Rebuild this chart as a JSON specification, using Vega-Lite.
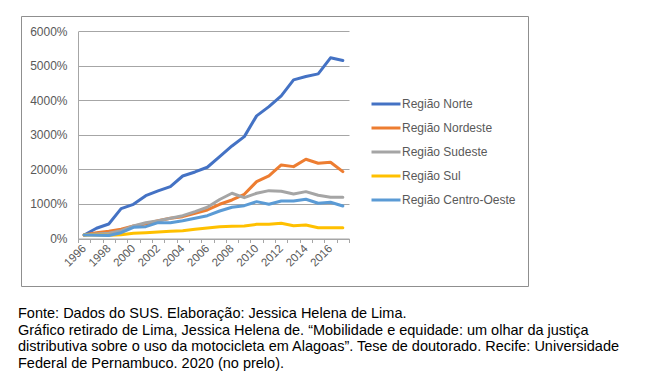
{
  "$schema": "https://vega.github.io/schema/vega-lite/v6.json",
  "width": 507,
  "height": 270,
  "padding": {"left": 21, "top": 16, "right": 143, "bottom": 102},
  "autosize": {"type": "none"},
  "background": "white",
  "view": {"stroke": "#8f8f8f", "strokeWidth": 1},
  "title": {
    "text": [
      "Fonte: Dados do SUS. Elaboração: Jessica Helena de Lima.",
      "Gráfico retirado de Lima, Jessica Helena de. “Mobilidade e equidade: um olhar da justiça",
      "distributiva sobre o uso da motocicleta em Alagoas”. Tese de doutorado. Recife: Universidade",
      "Federal de Pernambuco. 2020 (no prelo)."
    ],
    "orient": "bottom",
    "anchor": "start",
    "frame": "group",
    "offset": 21,
    "dx": -3,
    "font": "Liberation Sans",
    "fontSize": 14.5,
    "fontWeight": "normal",
    "color": "#000000",
    "lineHeight": 16.5
  },
  "config": {
    "view": {"stroke": "#8f8f8f", "strokeWidth": 1},
    "font": "Liberation Sans",
    "legend": {"rowPadding": 2}
  },
  "data": {
    "values": [
      {"ano": 1996, "Região Norte": 100, "Região Nordeste": 100, "Região Sudeste": 100, "Região Sul": 100, "Região Centro-Oeste": 100},
      {"ano": 1997, "Região Norte": 296, "Região Nordeste": 168, "Região Sudeste": 130, "Região Sul": 100, "Região Centro-Oeste": 95},
      {"ano": 1998, "Região Norte": 420, "Região Nordeste": 209, "Região Sudeste": 150, "Região Sul": 95, "Região Centro-Oeste": 85},
      {"ano": 1999, "Região Norte": 864, "Região Nordeste": 267, "Região Sudeste": 226, "Região Sul": 110, "Região Centro-Oeste": 168},
      {"ano": 2000, "Região Norte": 990, "Região Nordeste": 362, "Região Sudeste": 362, "Região Sul": 150, "Região Centro-Oeste": 325},
      {"ano": 2001, "Região Norte": 1240, "Região Nordeste": 420, "Região Sudeste": 458, "Região Sul": 168, "Região Centro-Oeste": 342},
      {"ano": 2002, "Região Norte": 1377, "Região Nordeste": 516, "Região Sudeste": 516, "Região Sul": 188, "Região Centro-Oeste": 458},
      {"ano": 2003, "Região Norte": 1502, "Região Nordeste": 585, "Região Sudeste": 585, "Região Sul": 209, "Região Centro-Oeste": 458},
      {"ano": 2004, "Região Norte": 1810, "Região Nordeste": 632, "Região Sudeste": 661, "Região Sul": 226, "Região Centro-Oeste": 516},
      {"ano": 2005, "Região Norte": 1927, "Região Nordeste": 730, "Região Sudeste": 777, "Região Sul": 267, "Região Centro-Oeste": 585},
      {"ano": 2006, "Região Norte": 2063, "Região Nordeste": 826, "Região Sudeste": 904, "Região Sul": 304, "Região Centro-Oeste": 660},
      {"ano": 2007, "Região Norte": 2370, "Região Nordeste": 991, "Região Sudeste": 1130, "Região Sul": 342, "Região Centro-Oeste": 797},
      {"ano": 2008, "Região Norte": 2680, "Região Nordeste": 1116, "Região Sudeste": 1310, "Região Sul": 352, "Região Centro-Oeste": 904},
      {"ano": 2009, "Região Norte": 2950, "Região Nordeste": 1280, "Região Sudeste": 1183, "Região Sul": 362, "Região Centro-Oeste": 951},
      {"ano": 2010, "Região Norte": 3551, "Região Nordeste": 1647, "Região Sudeste": 1310, "Região Sul": 411, "Região Centro-Oeste": 1067},
      {"ano": 2011, "Região Norte": 3820, "Região Nordeste": 1812, "Região Sudeste": 1386, "Região Sul": 411, "Região Centro-Oeste": 991},
      {"ano": 2012, "Região Norte": 4130, "Região Nordeste": 2130, "Região Sudeste": 1367, "Região Sul": 440, "Região Centro-Oeste": 1087},
      {"ano": 2013, "Região Norte": 4594, "Região Nordeste": 2081, "Região Sudeste": 1290, "Região Sul": 371, "Região Centro-Oeste": 1087},
      {"ano": 2014, "Região Norte": 4690, "Região Nordeste": 2295, "Região Sudeste": 1357, "Região Sul": 391, "Região Centro-Oeste": 1136},
      {"ano": 2015, "Região Norte": 4768, "Região Nordeste": 2180, "Região Sudeste": 1252, "Região Sul": 313, "Região Centro-Oeste": 1020},
      {"ano": 2016, "Região Norte": 5232, "Região Nordeste": 2209, "Região Sudeste": 1194, "Região Sul": 313, "Região Centro-Oeste": 1049},
      {"ano": 2017, "Região Norte": 5154, "Região Nordeste": 1937, "Região Sudeste": 1194, "Região Sul": 313, "Região Centro-Oeste": 942}
    ]
  },
  "transform": [
    {"fold": ["Região Norte", "Região Nordeste", "Região Sudeste", "Região Sul", "Região Centro-Oeste"], "as": ["regiao", "valor"]}
  ],
  "mark": {"type": "line", "strokeWidth": 3, "strokeJoin": "round", "strokeCap": "round"},
  "encoding": {
    "x": {
      "field": "ano",
      "type": "ordinal",
      "scale": {"type": "band", "range": [57, 328], "paddingInner": 0, "paddingOuter": 0},
      "axis": {
        "title": null,
        "labelExpr": "datum.value % 2 == 0 ? datum.label : ''",
        "labelAngle": -45,
        "labelAlign": "right",
        "labelBaseline": "middle",
        "labelOverlap": false,
        "tickBand": "extent",
        "ticks": true,
        "tickSize": 4,
        "tickColor": "#a6a6a6",
        "domainColor": "#a6a6a6",
        "grid": false,
        "labelFont": "Liberation Sans",
        "labelFontSize": 11.5,
        "labelColor": "#595959",
        "labelPadding": 4,
        "offset": -47.5
      }
    },
    "y": {
      "field": "valor",
      "type": "quantitative",
      "scale": {"domain": [0, 6000], "range": [222.5, 15.3], "nice": false},
      "axis": {
        "title": null,
        "values": [0, 1000, 2000, 3000, 4000, 5000, 6000],
        "labelExpr": "datum.value + '%'",
        "ticks": false,
        "grid": true,
        "gridColor": "#a6a6a6",
        "domain": true,
        "domainColor": "#a6a6a6",
        "labelFont": "Liberation Sans",
        "labelFontSize": 12,
        "labelColor": "#595959",
        "labelPadding": 11,
        "offset": -57
      }
    },
    "color": {
      "field": "regiao",
      "type": "nominal",
      "scale": {
        "domain": ["Região Norte", "Região Nordeste", "Região Sudeste", "Região Sul", "Região Centro-Oeste"],
        "range": ["#4472C4", "#ED7D31", "#A5A5A5", "#FFC000", "#5B9BD5"]
      },
      "legend": {
        "title": null,
        "orient": "none",
        "legendX": 349,
        "legendY": 72,
        "symbolType": "stroke",
        "symbolSize": 841,
        "symbolStrokeWidth": 3,
        "labelFont": "Liberation Sans",
        "labelFontSize": 12,
        "labelColor": "#595959",
        "labelOffset": 0,
        "rowPadding": 2,
        "padding": 0
      }
    }
  }
}
